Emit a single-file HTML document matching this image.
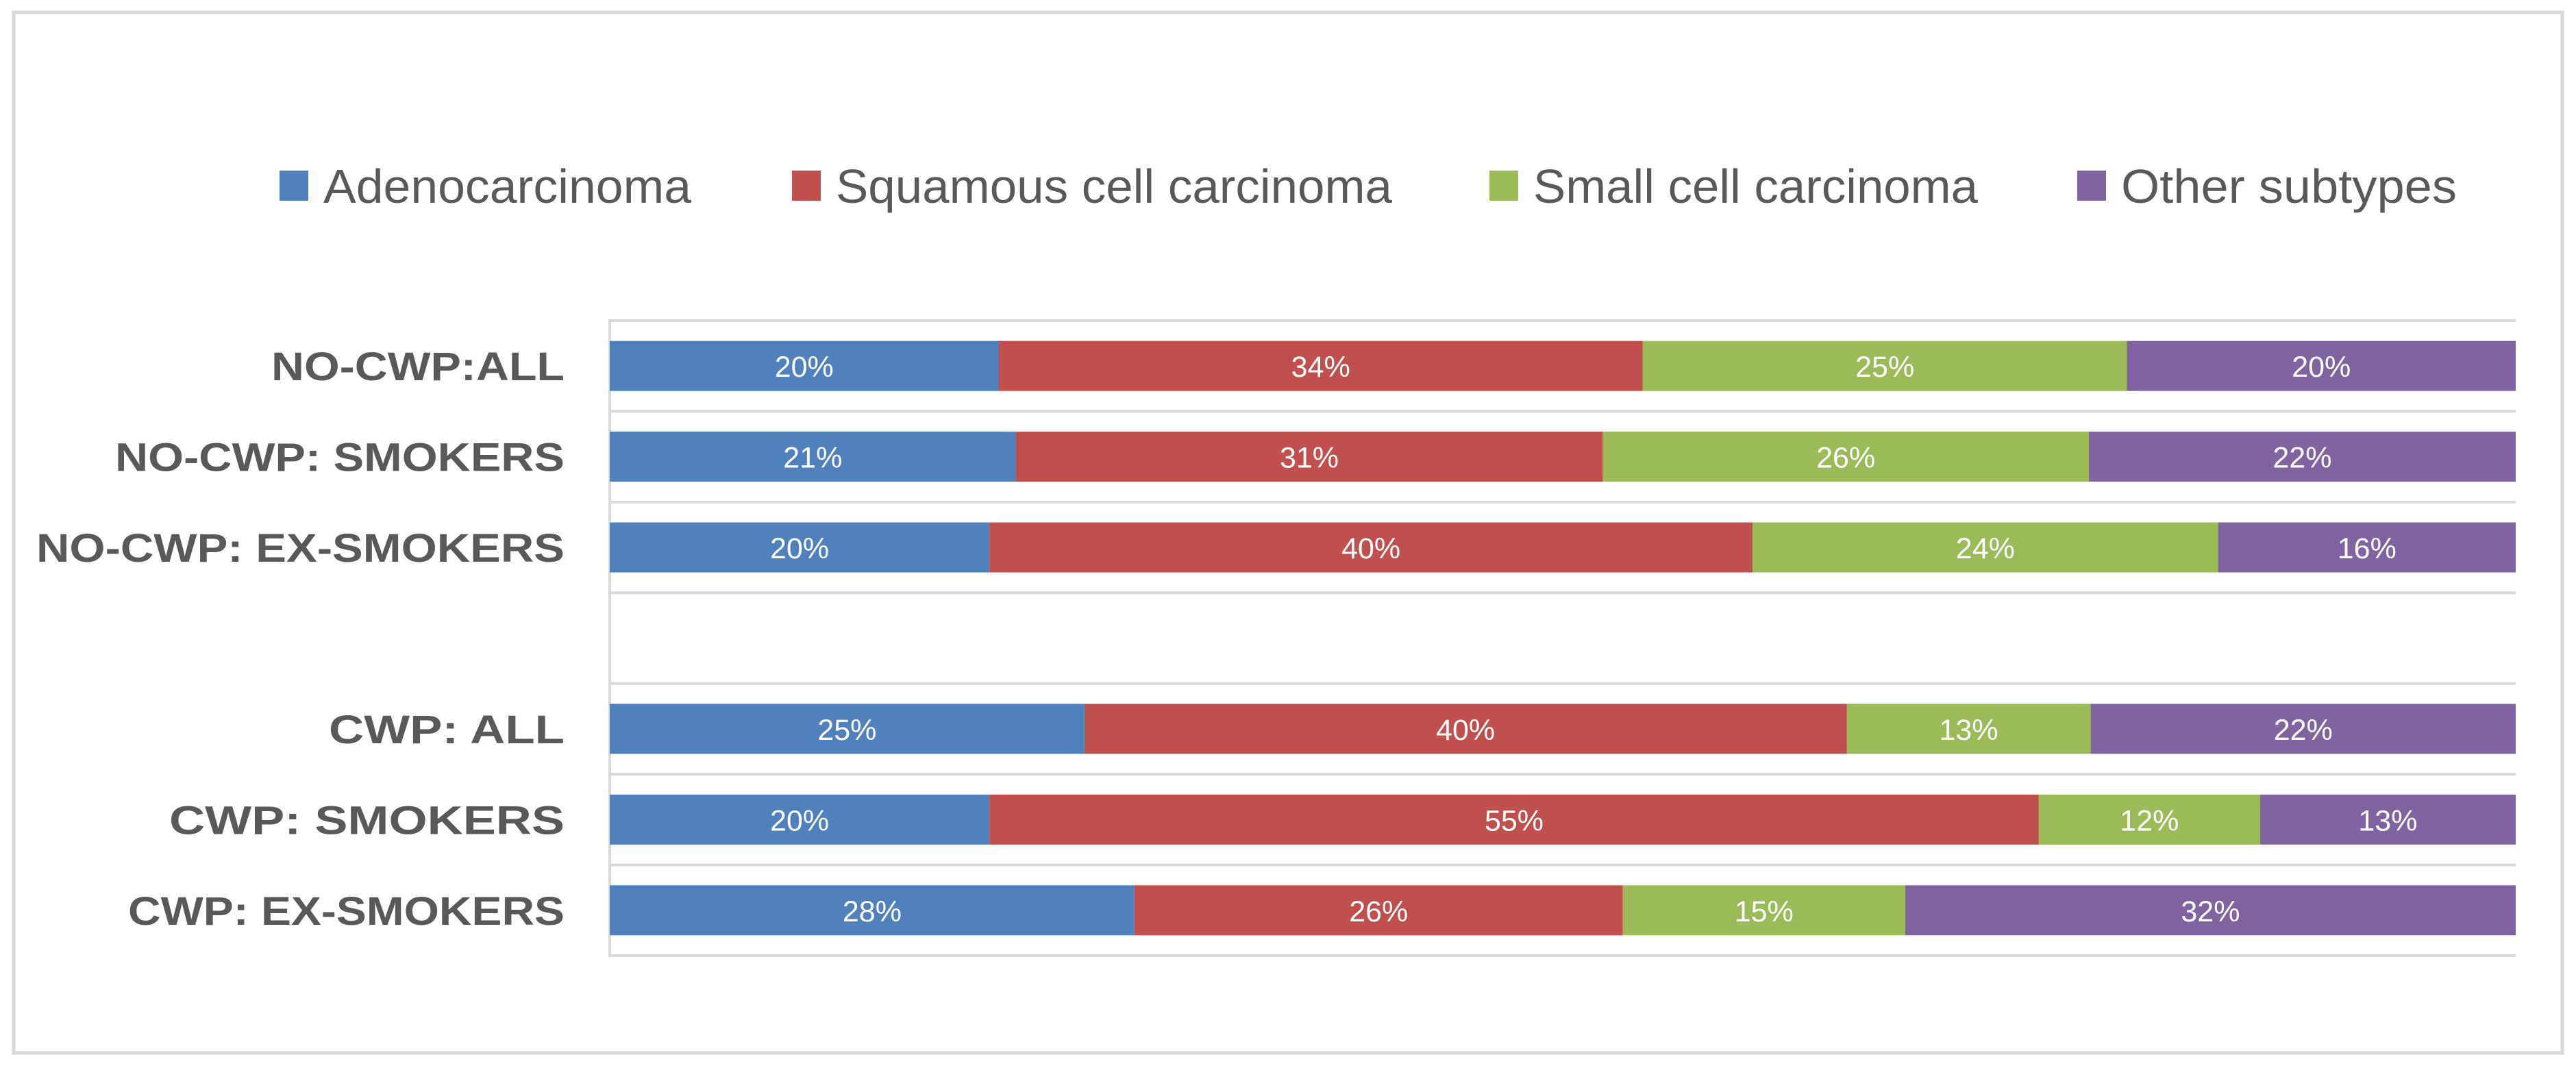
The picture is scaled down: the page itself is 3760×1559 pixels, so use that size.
<!DOCTYPE html>
<html><head><meta charset="utf-8"><style>
html,body{margin:0;padding:0;background:#fff;}
svg{display:block;}
text{font-family:"Liberation Sans",sans-serif;}
</style></head><body>
<svg id="chart" width="3760" height="1559" viewBox="0 0 3760 1559" xmlns="http://www.w3.org/2000/svg">
<rect x="0" y="0" width="3760" height="1559" fill="#fff"/>
<rect x="20" y="18" width="3720" height="1519" fill="#fff" stroke="#d9d9d9" stroke-width="5"/>
<g id="legend"></g>
<g id="grid"></g>
<g id="bars"></g>
<g id="cats"></g>
</svg>
<script>
const categories = ["NO-CWP:ALL","NO-CWP: SMOKERS","NO-CWP: EX-SMOKERS","","CWP: ALL","CWP: SMOKERS","CWP: EX-SMOKERS"];
const seriesNames = ["Adenocarcinoma","Squamous cell carcinoma","Small cell carcinoma","Other subtypes"];
const adeno    = [20.4, 21.3, 19.9, null, 24.9, 19.9, 27.5];
const squamous = [33.8, 30.8, 40.0, null, 40.0, 55.0, 25.6];
const small    = [25.4, 25.5, 24.4, null, 12.8, 11.6, 14.8];
const other    = [20.4, 22.4, 15.6, null, 22.3, 13.4, 32.0];
const series = [adeno, squamous, small, other];
const colors = ["#4F81BD","#C0504D","#9BBB59","#8064A2"];
const NS = "http://www.w3.org/2000/svg";
const plotL = 890, plotR = 3672, plotT = 468, plotB = 1395;
const band = (plotB - plotT) / categories.length;
const barH = 73;
function xScale(frac){ return plotL + frac * (plotR - plotL); }
function bandTop(i){ return plotT + i * band; }
function mk(tag, attrs, parent){ const e=document.createElementNS(NS,tag); for(const k in attrs) e.setAttribute(k,attrs[k]); parent.appendChild(e); return e; }

const grid = document.getElementById('grid');
for (let i=0;i<=categories.length;i++){
  const y = bandTop(i);
  const l = mk('line',{x1:plotL,x2:plotR,y1:y,y2:y,stroke:'#d9d9d9','stroke-width':4},grid);
  
  
}
const ax = mk('line',{x1:plotL,x2:plotL,y1:plotT-2,y2:plotB+2,stroke:'#d9d9d9','stroke-width':4},grid);



const bars = document.getElementById('bars');
const cats = document.getElementById('cats');
const labelWidths = [428, 656, 771, 0, 344, 577, 637];
categories.forEach((c,i)=>{
  if (c){
    const t = mk('text',{x:824,y:bandTop(i)+band/2+21,'text-anchor':'end','font-size':58,'font-weight':'bold',fill:'#595959',textLength:labelWidths[i],lengthAdjust:'spacingAndGlyphs'},cats);
    t.textContent = c;
    
    
  }
  if (series[0][i]==null) return;
  let total=0; series.forEach(s=>total+=s[i]);
  let cum=0;
  series.forEach((s,k)=>{
    const x0 = xScale(cum/total), x1 = xScale((cum+s[i])/total);
    cum += s[i];
    const y = bandTop(i) + (band-barH)/2;
    const r = mk('rect',{x:x0,y:y,width:x1-x0,height:barH,fill:colors[k]},bars);
    
    
    const t = mk('text',{x:(x0+x1)/2,y:y+barH/2+16,'text-anchor':'middle','font-size':43,fill:'#fff'},bars);
    t.textContent = Math.round(s[i]) + '%';
    
    
  });
});

const legend = document.getElementById('legend');
const legSw = [408, 1156, 2174, 3032];
const legTextW = [537, 812, 649, 490];
seriesNames.forEach((n,k)=>{
  const r = mk('rect',{x:legSw[k],y:249,width:42,height:44,fill:colors[k]},legend);
  
  
  const t = mk('text',{x:legSw[k]+64,y:296,'font-size':70,fill:'#595959',textLength:legTextW[k],lengthAdjust:'spacingAndGlyphs'},legend);
  t.textContent = n;
  
  
});
</script>
</body></html>
